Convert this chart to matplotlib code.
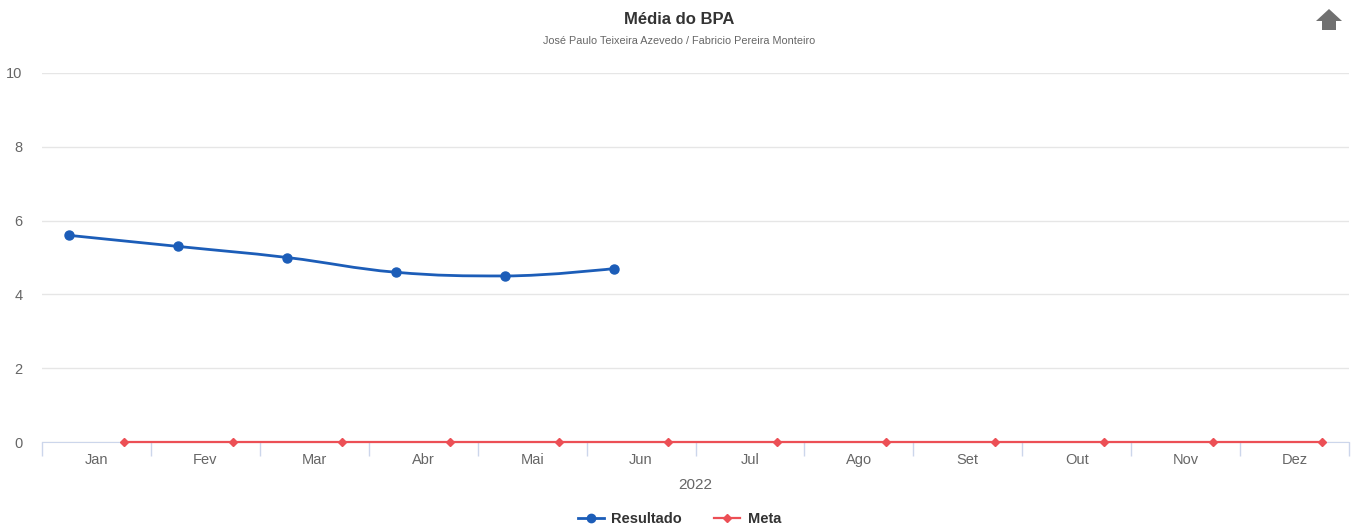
import numpy as np
import matplotlib
matplotlib.use("Agg")
import matplotlib.pyplot as plt
from matplotlib.path import Path
from matplotlib.patches import PathPatch, Polygon

plt.rcParams["font.family"] = ["Liberation Sans", "DejaVu Sans"]

meses = ["Jan", "Fev", "Mar", "Abr", "Mai", "Jun", "Jul", "Ago", "Set", "Out", "Nov", "Dez"]
resultado = [5.6, 5.3, 5.0, 4.6, 4.5, 4.7]
meta = [0, 0, 0, 0, 0, 0, 0, 0, 0, 0, 0, 0]

azul = "#1c5db8"
vermelho = "#ec4f55"
cinza = "#666666"


def spline_path(xs, ys, smoothing=1.5):
    # control points like highcharts spline
    denom = smoothing + 1
    verts = [(xs[0], ys[0])]
    codes = [Path.MOVETO]
    last_right = (xs[0], ys[0])
    n = len(xs)
    for i in range(1, n):
        px, py = xs[i], ys[i]
        lx, ly = xs[i - 1], ys[i - 1]
        if i < n - 1:
            nx, ny = xs[i + 1], ys[i + 1]
            lcx = (smoothing * px + lx) / denom
            lcy = (smoothing * py + ly) / denom
            rcx = (smoothing * px + nx) / denom
            rcy = (smoothing * py + ny) / denom
            if rcx != lcx:
                corr = (rcy - lcy) * (rcx - px) / (rcx - lcx) + py - rcy
                lcy += corr
                rcy += corr
                if lcy > ly and lcy > py:
                    lcy = max(ly, py)
                    rcy = 2 * py - lcy
                elif lcy < ly and lcy < py:
                    lcy = min(ly, py)
                    rcy = 2 * py - lcy
                if rcy > ny and rcy > py:
                    rcy = max(ny, py)
                    lcy = 2 * py - rcy
                elif rcy < ny and rcy < py:
                    rcy = min(ny, py)
                    lcy = 2 * py - rcy
            left = (lcx, lcy)
            right = (rcx, rcy)
        else:
            left = (px, py)
            right = (px, py)
        verts += [last_right, left, (px, py)]
        codes += [Path.CURVE4] * 3
        last_right = right
    return Path(verts, codes)


fig = plt.figure(figsize=(13.59, 5.27), dpi=100)
ax = fig.add_axes([42 / 1359, 1 - 442 / 527, 1307 / 1359, 369 / 527])

x_res = np.arange(len(resultado)) - 0.25
x_meta = np.arange(len(meta)) + 0.25

ax.add_patch(PathPatch(spline_path(list(x_res), resultado), fill=False, edgecolor=azul, lw=2, zorder=3))
ax.plot(x_res, resultado, "o", color=azul, ms=6.5, zorder=4)
ax.plot(x_meta, meta, "-", color=vermelho, lw=1.6, zorder=3, clip_on=False)
ax.plot(x_meta, meta, "D", color=vermelho, ms=4.5, zorder=4, clip_on=False)

ax.set_xlim(-0.5, 11.5)
ax.set_ylim(0, 10)
ax.set_yticks([0, 2, 4, 6, 8, 10])
ax.grid(axis="y", color="#e6e6e6", lw=1)
ax.set_axisbelow(True)
for s in ["top", "right", "left"]:
    ax.spines[s].set_visible(False)
ax.spines["bottom"].set_color("#ccd6eb")
ax.tick_params(axis="y", length=0, labelsize=10.5, labelcolor=cinza, pad=14)

ax.set_xticks(np.arange(-0.5, 12, 1))
ax.set_xticklabels([])
ax.tick_params(axis="x", which="major", length=10, color="#ccd6eb", width=1)
ax.set_xticks(np.arange(12), minor=True)
ax.set_xticklabels(meses, minor=True)
ax.tick_params(axis="x", which="minor", length=0, labelsize=10.5, labelcolor=cinza, pad=8)
ax.set_xlabel("2022", fontsize=11, color=cinza, labelpad=8)

fig.text(0.5, 1 - 19 / 527, "Média do BPA", ha="center", va="center", fontsize=12, fontweight="bold", color="#333333")
fig.text(0.5, 1 - 41 / 527, "José Paulo Teixeira Azevedo / Fabricio Pereira Monteiro",
         ha="center", va="center", fontsize=7.8, color=cinza)

# botao seta
cx, cy = 1329, 20
pts = [(cx, cy - 11), (cx + 13, cy + 1), (cx + 7, cy + 1), (cx + 7, cy + 10),
       (cx - 7, cy + 10), (cx - 7, cy + 1), (cx - 13, cy + 1)]
fig.patches.append(Polygon([(px / 1359, 1 - py / 527) for px, py in pts], closed=True,
                           transform=fig.transFigure, facecolor="#707070", edgecolor="none"))

h1, = ax.plot([], [], "-o", color=azul, ms=6, lw=2, label="Resultado")
h2, = ax.plot([], [], "-D", color=vermelho, ms=4.5, lw=1.6, label="Meta")
leg = fig.legend(handles=[h1, h2], loc="center", bbox_to_anchor=(0.5, 8 / 527), ncol=2,
                 frameon=False, fontsize=10.5, handlelength=1.8, columnspacing=2.2, handletextpad=0.5)
for t in leg.get_texts():
    t.set_fontweight("bold")
    t.set_color("#333333")

fig.savefig("out.png", dpi=100, facecolor="white")
